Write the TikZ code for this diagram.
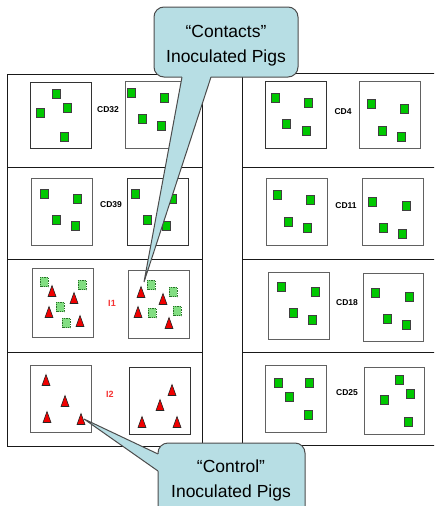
\documentclass[tikz,border=0pt]{standalone}
\usepackage{fontspec}
\setmainfont{Liberation Sans}
\definecolor{pigGreen}{RGB}{0,200,0}
\definecolor{pigLight}{RGB}{130,222,130}
\definecolor{pigDot}{RGB}{40,110,40}
\definecolor{pigRed}{RGB}{240,0,0}
\definecolor{labelRed}{RGB}{245,50,50}
\definecolor{calloutBlue}{RGB}{183,222,228}
\begin{document}
\begin{tikzpicture}[x=1pt,y=-1pt,
  grid/.style={draw=black!90, line width=0.9pt},
  pen/.style={draw=black!80, line width=1pt, fill=white},
  pengray/.style={draw=black!62, line width=1pt, fill=white},
  sq/.style={fill=pigGreen, draw=black!75, line width=0.7pt},
  sqlight/.style={fill=pigLight, draw=pigDot, line width=0.7pt, densely dotted},
  tri/.style={fill=pigRed, draw=black!85, line width=0.6pt, line join=miter},
  lbl/.style={font=\fontsize{8.5}{10}\selectfont\bfseries, inner sep=0pt},
  ilbl/.style={lbl, font=\fontsize{9}{10}\selectfont\bfseries, text=labelRed},
  callout/.style={fill=calloutBlue, draw=black!70, line width=1pt},
  calloutfill/.style={fill=calloutBlue},
  calloutedge/.style={draw=black!70, line width=1pt, line join=miter},
  ctext/.style={font=\fontsize{17.5}{25}\selectfont, align=center, inner sep=0pt}]

\useasboundingbox (0,0) rectangle (434,506);
\clip (0,0) rectangle (434,506);

% room grid: left and right barns, four rooms each
\draw[grid] (7,74) rectangle (202,446);
\draw[grid] (7,167) -- (202,167) (7,259) -- (202,259) (7,352) -- (202,352);
\draw[grid] (242,73) rectangle (440,445);
\draw[grid] (242,167) -- (440,167) (242,259) -- (440,259) (242,352) -- (440,352);

% pens
\draw[pen]     (30,82)  rectangle (91,148);
\draw[pengray] (125,81) rectangle (187,148);
\draw[pengray] (31,178) rectangle (92,245);
\draw[pen]     (127,178) rectangle (188,245);
\draw[pengray] (32,268) rectangle (93,337);
\draw[pengray] (128,270) rectangle (189,338);
\draw[pengray] (30,365) rectangle (91,432);
\draw[pen]     (129,367) rectangle (190,434);

\draw[pen]     (265,81)  rectangle (326,148);
\draw[pengray] (359,81)  rectangle (420,148);
\draw[pengray] (266,178) rectangle (327,245);
\draw[pengray] (362,178) rectangle (423,245);
\draw[pengray] (268,272) rectangle (329,339);
\draw[pengray] (363,273) rectangle (423,341);
\draw[pengray] (265,365) rectangle (326,432);
\draw[pengray] (364,367) rectangle (424,434);

% healthy pigs
\foreach \x/\y in {56/94, 67/108, 40/113, 64/137,
                   131/93, 164/98, 142/119, 161/126,
                   44/194, 77/199, 56/220, 75/226,
                   135/194, 172/199, 147/220, 166/226,
                   275/98, 308/103, 286/124, 306/131,
                   371/104, 404/109, 382/131, 401/137,
                   277/195, 310/200, 288/222, 307/228,
                   372/202, 406/206, 383/228, 402/234,
                   281/287, 315/292, 293/313, 312/320,
                   375/293, 409/297, 387/319, 406/325,
                   278/383, 309/383, 289/397, 308/415,
                   399/380, 410/394, 384/400, 408/422}
  \draw[sq] ({\x-4},{\y-4.75}) rectangle ({\x+4},{\y+4.75});

% contact pigs
\foreach \x/\y in {44/282, 82/285, 60/307, 66/323,
                   151/285, 173/292, 152/313, 177/311}
  \draw[sqlight] ({\x-4},{\y-4.75}) rectangle ({\x+4},{\y+4.75});

% inoculated pigs
\foreach \x/\y in {52/291, 74/298, 49/312, 80/321,
                   141/292, 163/299, 138/312, 169/323,
                   46/380, 65/401, 47/417, 81/419,
                   172/390, 160/405, 142/422, 177/422}
  \draw[tri] ({\x-4},{\y+5.5}) -- (\x,{\y-5.5}) -- ({\x+4},{\y+5.5}) -- cycle;

% room labels
\node[lbl]  (cd32) at (108,110) {CD32};
\node[lbl]  (cd39) at (111,205) {CD39};
\node[ilbl] (i1)   at (112,303) {I1};
\node[ilbl] (i2)   at (110,394) {I2};
\node[lbl]  (cd4)  at (343,112) {CD4};
\node[lbl]  (cd11) at (346,206) {CD11};
\node[lbl]  (cd18) at (347,303) {CD18};
\node[lbl]  (cd25) at (347,393) {CD25};

% callout for the contact pigs
\coordinate (contactTip) at (144,282);
\coordinate (contactL) at (182,77);
\coordinate (contactR) at (211,77);
\draw[callout, rounded corners=10pt] (154,7) rectangle (298,77);
\fill[calloutfill] (contactTip) -- (contactL) -- (183,70) -- (210,70) -- (contactR) -- cycle;
\draw[calloutedge] (contactL) -- (contactTip) -- (contactR);
\node[ctext] (contactsText) at (226,46) {“Contacts”\\Inoculated Pigs};

% callout for the control pigs
\coordinate (controlTip) at (84,419);
\coordinate (controlT) at (158,454);
\coordinate (controlB) at (158,471);
\draw[callout, rounded corners=10pt] (158,443) rectangle (305,530);
\fill[calloutfill] (controlTip) -- (controlT) -- (165,454) -- (165,471) -- (controlB) -- cycle;
\draw[calloutedge] (controlT) -- (controlTip) -- (controlB);
\node[ctext] (controlText) at (231,480) {“Control”\\Inoculated Pigs};
\end{tikzpicture}
\end{document}
